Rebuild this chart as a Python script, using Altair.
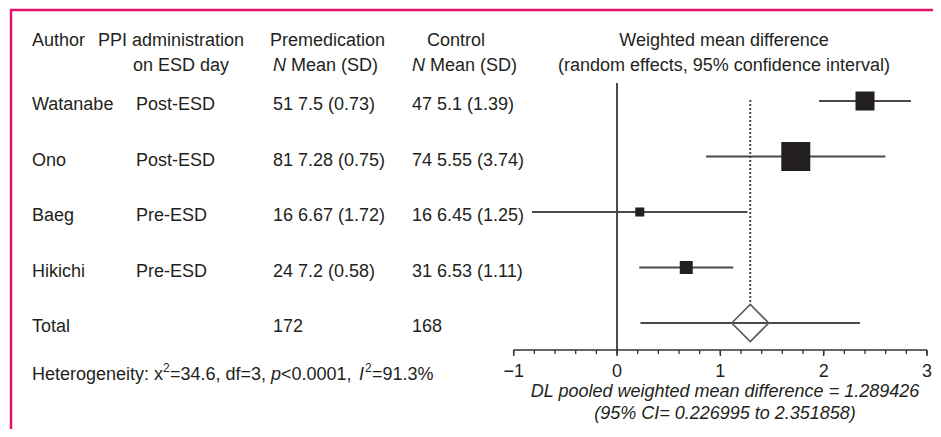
import altair as alt
import pandas as pd

# ---------------- data ----------------
authors = ["Watanabe", "Ono", "Baeg", "Hikichi"]
ppi_timing = ["Post-ESD", "Post-ESD", "Pre-ESD", "Pre-ESD"]
premed_n = [51, 81, 16, 24]
premed_mean = [7.5, 7.28, 6.67, 7.2]
premed_sd = [0.73, 0.75, 1.72, 0.58]
control_n = [47, 74, 16, 31]
control_mean = [5.1, 5.55, 6.45, 6.53]
control_sd = [1.39, 3.74, 1.25, 1.11]
wmd = [2.40, 1.73, 0.22, 0.67]
ci_low = [1.955, 0.862, -0.822, 0.215]
ci_high = [2.845, 2.598, 1.262, 1.125]
weight_pct = [24.9, 57.9, 5.6, 11.6]
total_premed = 172
total_control = 168
pooled = 1.289426
pooled_low = 0.226995
pooled_high = 2.351858
tick_values = [i / 5 for i in range(-5, 16)]
major_ticks = [-1, 0, 1, 2, 3]
major_labels = ["\u22121", "0", "1", "2", "3"]

FONT = "Liberation Sans"
TXT = "#231f20"
GREY = "#4a4a4a"
PINK = "#e2136f"
FS = 18

study_order = authors + ["Total"]

rows = pd.DataFrame({
    "study": authors,
    "ppi": ppi_timing,
    "premed": [f"{n} {m} ({s})" for n, m, s in zip(premed_n, premed_mean, premed_sd)],
    "control": [f"{n} {m} ({s})" for n, m, s in zip(control_n, control_mean, control_sd)],
    "wmd": wmd,
    "low": ci_low,
    "high": ci_high,
    "weight": weight_pct,
})
total = pd.DataFrame({
    "study": ["Total"],
    "ppi": [""],
    "premed": [str(total_premed)],
    "control": [str(total_control)],
    "wmd": [pooled],
    "low": [pooled_low],
    "high": [pooled_high],
})
table = pd.concat([rows[["study", "ppi", "premed", "control"]],
                   total[["study", "ppi", "premed", "control"]]], ignore_index=True)

x_scale = alt.Scale(domain=[-1, 3], range=[505.7, 919.0], nice=False, zero=False)
y_scale = alt.Scale(type="point", domain=study_order, range=[93, 315], padding=0)
Y = alt.Y("study:N", scale=y_scale, axis=None)


def label(text, x, y, align="left", italic=False, size=FS):
    return alt.Chart(pd.DataFrame({"t": [text]})).mark_text(
        align=align, baseline="alphabetic", font=FONT, fontSize=size,
        fontStyle="italic" if italic else "normal", color=TXT
    ).encode(x=alt.value(x), y=alt.value(y), text="t:N")


# ---------------- table text ----------------
def col(field, x):
    return alt.Chart(table).mark_text(
        align="left", baseline="alphabetic", dy=9, font=FONT, fontSize=FS, color=TXT
    ).encode(x=alt.value(x), y=Y, text=f"{field}:N")


table_layers = [col("study", 24), col("ppi", 128), col("premed", 265), col("control", 404)]

header = [
    label("Author", 24, 38),
    label("PPI administration", 90, 38),
    label("on ESD day", 125, 63),
    label("Premedication", 262, 38),
    label("N", 265, 63, italic=True),
    label("Mean (SD)", 283, 63),
    label("Control", 448, 38, align="center"),
    label("N", 404, 63, italic=True),
    label("Mean (SD)", 422, 63),
    label("Weighted mean difference", 716, 38, align="center"),
    label("(random effects, 95% confidence interval)", 716, 63, align="center"),
]

hetero = [
    label("Heterogeneity: x", 24, 372),
    label("2", 155, 364, size=12),
    label("=34.6, df=3, ", 162, 372),
    label("p", 263, 372, italic=True),
    label("<0.0001, ", 273, 372),
    label("I", 351, 372, italic=True),
    label("2", 357, 364, size=12),
    label("=91.3%", 364, 372),
]

footer = [
    label(f"DL pooled weighted mean difference = {pooled}", 717, 389, align="center", italic=True),
    label(f"(95% CI= {pooled_low} to {pooled_high})", 717, 411, align="center", italic=True),
]

# ---------------- forest plot ----------------
zero_line = alt.Chart(pd.DataFrame({"v": [0]})).mark_rule(color=GREY, strokeWidth=2).encode(
    x=alt.X("v:Q", scale=x_scale, axis=None), y=alt.value(75), y2=alt.value(342))

pooled_line = alt.Chart(pd.DataFrame({"v": [pooled]})).mark_rule(
    color=GREY, strokeWidth=2, strokeDash=[2, 2]).encode(
    x=alt.X("v:Q", scale=x_scale, axis=None), y=alt.value(92), y2=alt.value(297))

ci_lines = alt.Chart(pd.concat([rows, total], ignore_index=True)).mark_rule(
    color=GREY, strokeWidth=2).encode(
    x=alt.X("low:Q", scale=x_scale, axis=None), x2="high:Q", y=Y)

squares = alt.Chart(rows).mark_square(filled=True, color=TXT, opacity=1).encode(
    x=alt.X("wmd:Q", scale=x_scale, axis=None), y=Y,
    size=alt.Size("weight:Q", scale=alt.Scale(domain=[0, 100], range=[0, 1452]), legend=None))

diamond = alt.Chart(total).mark_point(
    shape="diamond", size=1369, filled=False, color="#5a5a5a", strokeWidth=1.6, opacity=1).encode(
    x=alt.X("wmd:Q", scale=x_scale, axis=None), y=Y)

# axis drawn from tick values
axis_line = alt.Chart(pd.DataFrame({"a": [major_ticks[0]], "b": [major_ticks[-1]]})).mark_rule(
    color="#333333", strokeWidth=1.5).encode(
    x=alt.X("a:Q", scale=x_scale, axis=None), x2="b:Q", y=alt.value(342))
minor = alt.Chart(pd.DataFrame({"v": tick_values})).mark_rule(color="#333333", strokeWidth=1.3).encode(
    x=alt.X("v:Q", scale=x_scale, axis=None), y=alt.value(342), y2=alt.value(346))
major = alt.Chart(pd.DataFrame({"v": major_ticks})).mark_rule(color="#333333", strokeWidth=1.5).encode(
    x=alt.X("v:Q", scale=x_scale, axis=None), y=alt.value(342), y2=alt.value(348))
tick_labels = alt.Chart(pd.DataFrame({"v": major_ticks, "lab": major_labels})).mark_text(
    align="center", baseline="alphabetic", font=FONT, fontSize=FS, color=TXT).encode(
    x=alt.X("v:Q", scale=x_scale, axis=None), y=alt.value(369), text="lab:N")

# ---------------- frame ----------------
frame_top = alt.Chart(pd.DataFrame({"k": [0]})).mark_rule(color=PINK, strokeWidth=2.5).encode(
    x=alt.value(2), x2=alt.value(925), y=alt.value(2))
frame_left = alt.Chart(pd.DataFrame({"k": [0]})).mark_rule(color=PINK, strokeWidth=2.5).encode(
    x=alt.value(3), y=alt.value(1), y2=alt.value(421))

chart = alt.layer(
    frame_top, frame_left,
    zero_line, pooled_line, ci_lines, squares, diamond,
    axis_line, minor, major, tick_labels,
    *table_layers, *header, *hetero, *footer,
).properties(
    width=925, height=421, padding=0,
    autosize=alt.AutoSizeParams(type="none"),
    background="white",
).configure_view(stroke="transparent")

chart.save("out.html", embed_options={"renderer": "svg", "actions": False})
